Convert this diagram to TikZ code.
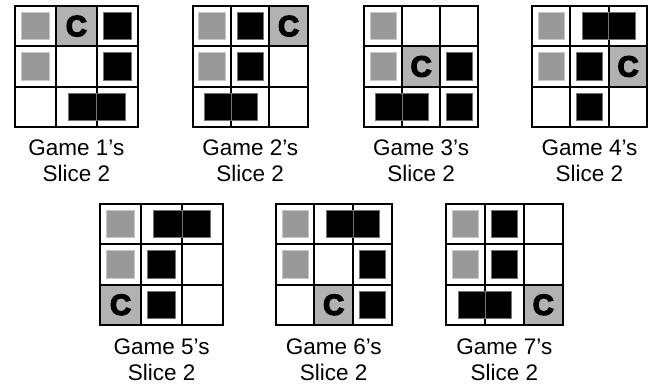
\documentclass[tikz,border=0pt]{standalone}
\usepackage{fontspec}
\setmainfont{Liberation Sans}
\newfontfamily\heavyfont[FakeBold=5]{Liberation Sans}

\begin{document}
\begin{tikzpicture}[line join=miter,
  board/.style={line width=1.1pt},
  greysq/.style={fill=black!40, draw=black!22, line width=0.4pt},
  blacksq/.style={fill=black, draw=black!55, line width=0.4pt},
  ccell/.style={fill=black!30},
  ctext/.style={font=\heavyfont\bfseries\fontsize{16.5}{16.5}\selectfont, inner sep=0pt},
  caption/.style={align=center, font=\fontsize{12.8}{14.5}\selectfont}]

\useasboundingbox (0,0) rectangle (13.12,7.8);

% game 1
\begin{scope}[shift={(0.30cm,5.26cm)}, x=0.818cm, y=0.807cm]
\fill[ccell] (1,2) rectangle (2,3);
\draw[board] (0,0) rectangle (3,3) (1,0) -- (1,3) (2,0) -- (2,3) (0,1) -- (3,1) (0,2) -- (3,2);
\draw[greysq] (0.16,2.16) rectangle +(0.68,0.68);
\draw[greysq] (0.16,1.16) rectangle +(0.68,0.68);
\draw[blacksq] (2.16,2.16) rectangle +(0.68,0.68);
\draw[blacksq] (2.16,1.16) rectangle +(0.68,0.68);
\draw[blacksq] (1.31,0.16) rectangle (2,0.84);
\draw[blacksq] (2,0.16) rectangle (2.69,0.84);
\node[ctext] (c1) at (1.5,2.5) {C};
\end{scope}

% game 2
\begin{scope}[shift={(3.854cm,5.26cm)}, x=0.767cm, y=0.807cm]
\fill[ccell] (2,2) rectangle (3,3);
\draw[board] (0,0) rectangle (3,3) (1,0) -- (1,3) (2,0) -- (2,3) (0,1) -- (3,1) (0,2) -- (3,2);
\draw[greysq] (0.16,2.16) rectangle +(0.68,0.68);
\draw[greysq] (0.16,1.16) rectangle +(0.68,0.68);
\draw[blacksq] (1.16,2.16) rectangle +(0.68,0.68);
\draw[blacksq] (1.16,1.16) rectangle +(0.68,0.68);
\draw[blacksq] (0.31,0.16) rectangle (1,0.84);
\draw[blacksq] (1,0.16) rectangle (1.69,0.84);
\node[ctext] (c2) at (2.5,2.5) {C};
\end{scope}

% game 3
\begin{scope}[shift={(7.28cm,5.26cm)}, x=0.762cm, y=0.807cm]
\fill[ccell] (1,1) rectangle (2,2);
\draw[board] (0,0) rectangle (3,3) (1,0) -- (1,3) (2,0) -- (2,3) (0,1) -- (3,1) (0,2) -- (3,2);
\draw[greysq] (0.16,2.16) rectangle +(0.68,0.68);
\draw[greysq] (0.16,1.16) rectangle +(0.68,0.68);
\draw[blacksq] (2.16,1.16) rectangle +(0.68,0.68);
\draw[blacksq] (2.16,0.16) rectangle +(0.68,0.68);
\draw[blacksq] (0.31,0.16) rectangle (1,0.84);
\draw[blacksq] (1,0.16) rectangle (1.69,0.84);
\node[ctext] (c3) at (1.5,1.5) {C};
\end{scope}

% game 4
\begin{scope}[shift={(10.634cm,5.26cm)}, x=0.771cm, y=0.807cm]
\fill[ccell] (2,1) rectangle (3,2);
\draw[board] (0,0) rectangle (3,3) (1,0) -- (1,3) (2,0) -- (2,3) (0,1) -- (3,1) (0,2) -- (3,2);
\draw[greysq] (0.16,2.16) rectangle +(0.68,0.68);
\draw[greysq] (0.16,1.16) rectangle +(0.68,0.68);
\draw[blacksq] (1.31,2.16) rectangle (2,2.84);
\draw[blacksq] (2,2.16) rectangle (2.69,2.84);
\draw[blacksq] (1.16,1.16) rectangle +(0.68,0.68);
\draw[blacksq] (1.16,0.16) rectangle +(0.68,0.68);
\node[ctext] (c4) at (2.5,1.5) {C};
\end{scope}

% game 5
\begin{scope}[shift={(2.00cm,1.30cm)}, x=0.822cm, y=0.807cm]
\fill[ccell] (0,0) rectangle (1,1);
\draw[board] (0,0) rectangle (3,3) (1,0) -- (1,3) (2,0) -- (2,3) (0,1) -- (3,1) (0,2) -- (3,2);
\draw[greysq] (0.16,2.16) rectangle +(0.68,0.68);
\draw[greysq] (0.16,1.16) rectangle +(0.68,0.68);
\draw[blacksq] (1.31,2.16) rectangle (2,2.84);
\draw[blacksq] (2,2.16) rectangle (2.69,2.84);
\draw[blacksq] (1.16,1.16) rectangle +(0.68,0.68);
\draw[blacksq] (1.16,0.16) rectangle +(0.68,0.68);
\node[ctext] (c5) at (0.5,0.5) {C};
\end{scope}

% game 6
\begin{scope}[shift={(5.514cm,1.30cm)}, x=0.773cm, y=0.807cm]
\fill[ccell] (1,0) rectangle (2,1);
\draw[board] (0,0) rectangle (3,3) (1,0) -- (1,3) (2,0) -- (2,3) (0,1) -- (3,1) (0,2) -- (3,2);
\draw[greysq] (0.16,2.16) rectangle +(0.68,0.68);
\draw[greysq] (0.16,1.16) rectangle +(0.68,0.68);
\draw[blacksq] (1.31,2.16) rectangle (2,2.84);
\draw[blacksq] (2,2.16) rectangle (2.69,2.84);
\draw[blacksq] (2.16,1.16) rectangle +(0.68,0.68);
\draw[blacksq] (2.16,0.16) rectangle +(0.68,0.68);
\node[ctext] (c6) at (1.5,0.5) {C};
\end{scope}

% game 7
\begin{scope}[shift={(8.92cm,1.30cm)}, x=0.778cm, y=0.807cm]
\fill[ccell] (2,0) rectangle (3,1);
\draw[board] (0,0) rectangle (3,3) (1,0) -- (1,3) (2,0) -- (2,3) (0,1) -- (3,1) (0,2) -- (3,2);
\draw[greysq] (0.16,2.16) rectangle +(0.68,0.68);
\draw[greysq] (0.16,1.16) rectangle +(0.68,0.68);
\draw[blacksq] (1.16,2.16) rectangle +(0.68,0.68);
\draw[blacksq] (1.16,1.16) rectangle +(0.68,0.68);
\draw[blacksq] (0.31,0.16) rectangle (1,0.84);
\draw[blacksq] (1,0.16) rectangle (1.69,0.84);
\node[ctext] (c7) at (2.5,0.5) {C};
\end{scope}

% captions
\node[caption] (game1) at (1.527,4.58) {Game 1’s\\Slice 2};
\node[caption] (game2) at (5.004,4.58) {Game 2’s\\Slice 2};
\node[caption] (game3) at (8.423,4.58) {Game 3’s\\Slice 2};
\node[caption] (game4) at (11.79,4.58) {Game 4’s\\Slice 2};
\node[caption] (game5) at (3.233,0.60) {Game 5’s\\Slice 2};
\node[caption] (game6) at (6.674,0.60) {Game 6’s\\Slice 2};
\node[caption] (game7) at (10.087,0.60) {Game 7’s\\Slice 2};

\end{tikzpicture}
\end{document}
